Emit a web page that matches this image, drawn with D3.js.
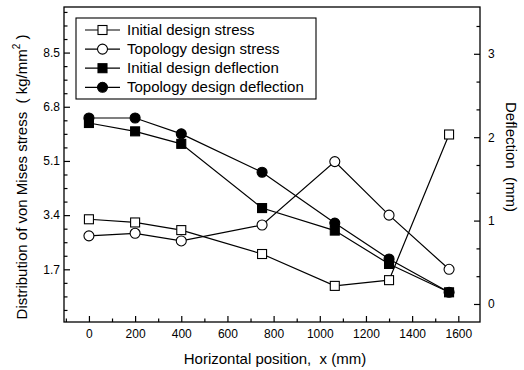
<!DOCTYPE html>
<html>
<head>
<meta charset="utf-8">
<script src="https://cdn.jsdelivr.net/npm/d3@7"></script>
<style>
  body { margin: 0; background: #fff; }
  text { font-family: "Liberation Sans", Arial, sans-serif; fill: #000; }
</style>
</head>
<body>
<div id="chart"></div>
<script>
// positions along the beam (mm)
const positions = [0, 200, 400, 750, 1065, 1300, 1560];
// von Mises stress (kg/mm^2), left axis
const initialStress = [3.27, 3.17, 2.93, 2.18, 1.18, 1.36, 5.93];
const topologyStress = [2.75, 2.83, 2.59, 3.09, 5.08, 3.40, 1.70];
// deflection (mm), right axis
const initialDeflection = [2.17, 2.07, 1.92, 1.15, 0.88, 0.48, 0.14];
const topologyDeflection = [2.23, 2.23, 2.04, 1.58, 0.97, 0.54, 0.14];

const xTicks = [0, 200, 400, 600, 800, 1000, 1200, 1400, 1600];
const stressTicks = [1.7, 3.4, 5.1, 6.8, 8.5];
const deflTicks = [0, 1, 2, 3];
const legendNames = ["Initial design stress", "Topology design stress",
  "Initial design deflection", "Topology design deflection"];

const width = 524, height = 370;
const plotLeft = 64, plotRight = 480, plotTop = 7, plotBottom = 322;

const svg = d3.select("#chart").append("svg")
  .attr("width", width)
  .attr("height", height);

const x = d3.scaleLinear().domain([-108, 1694]).range([plotLeft, plotRight]);
const yL = d3.scaleLinear().domain([0.047, 9.93]).range([plotBottom, plotTop]);
const yR = d3.scaleLinear().domain([-0.216, 3.561]).range([plotBottom, plotTop]);

// minor tick values
const xMinor = d3.range(-100, 1700, 200);
const yLMinor = d3.range(1, 24).map(i => i * 0.425).filter(v => Math.abs(v / 1.7 - Math.round(v / 1.7)) > 0.01);
const yRMinor = d3.range(1, 11).map(i => i / 3).filter(v => Math.abs(v - Math.round(v)) > 0.01);

function styleAxis(g) {
  g.select(".domain").remove();
  g.selectAll("line").attr("stroke", "#000").attr("stroke-width", 1.2);
  g.selectAll("text").attr("font-size", 12).attr("font-family", "Liberation Sans, Arial, sans-serif");
}

// bottom axis
svg.append("g").attr("transform", "translate(0," + plotBottom + ")")
  .call(d3.axisBottom(x).tickValues(xTicks).tickSize(-6).tickPadding(7).tickFormat(d3.format("d")))
  .call(styleAxis);
svg.append("g").attr("transform", "translate(0," + plotBottom + ")")
  .call(d3.axisBottom(x).tickValues(xMinor).tickSize(-3.5).tickFormat(""))
  .call(styleAxis);

// left axis
svg.append("g").attr("transform", "translate(" + plotLeft + ",0)")
  .call(d3.axisLeft(yL).tickValues(stressTicks).tickSize(-6).tickPadding(4).tickFormat(d3.format(".1f")))
  .call(styleAxis);
svg.append("g").attr("transform", "translate(" + plotLeft + ",0)")
  .call(d3.axisLeft(yL).tickValues(yLMinor).tickSize(-3.5).tickFormat(""))
  .call(styleAxis);

// right axis
svg.append("g").attr("transform", "translate(" + plotRight + ",0)")
  .call(d3.axisRight(yR).tickValues(deflTicks).tickSize(-6).tickPadding(8).tickFormat(d3.format("d")))
  .call(styleAxis);
svg.append("g").attr("transform", "translate(" + plotRight + ",0)")
  .call(d3.axisRight(yR).tickValues(yRMinor).tickSize(-3.5).tickFormat(""))
  .call(styleAxis);

// frame
svg.append("rect")
  .attr("x", plotLeft).attr("y", plotTop)
  .attr("width", plotRight - plotLeft).attr("height", plotBottom - plotTop)
  .attr("fill", "none").attr("stroke", "#000").attr("stroke-width", 1.3);

const series = [
  { values: initialStress, y: yL, shape: "square", filled: false },
  { values: topologyStress, y: yL, shape: "circle", filled: false },
  { values: initialDeflection, y: yR, shape: "square", filled: true },
  { values: topologyDeflection, y: yR, shape: "circle", filled: true }
];

function drawMarker(g, shape, filled, cx, cy) {
  if (shape === "square") {
    g.append("rect")
      .attr("x", cx - 4.5).attr("y", cy - 4.5)
      .attr("width", 9).attr("height", 9)
      .attr("fill", filled ? "#000" : "#fff")
      .attr("stroke", "#000").attr("stroke-width", 1.1);
  } else {
    g.append("circle")
      .attr("cx", cx).attr("cy", cy).attr("r", 5)
      .attr("fill", filled ? "#000" : "#fff")
      .attr("stroke", "#000").attr("stroke-width", 1.1);
  }
}

// lines first
series.forEach(s => {
  const line = d3.line()
    .x((d, i) => x(positions[i]))
    .y(d => s.y(d));
  svg.append("path")
    .datum(s.values)
    .attr("d", line)
    .attr("fill", "none")
    .attr("stroke", "#000")
    .attr("stroke-width", 1.2);
});

// then markers
series.forEach(s => {
  const g = svg.append("g");
  s.values.forEach((v, i) => drawMarker(g, s.shape, s.filled, x(positions[i]), s.y(v)));
});

// legend
const legend = svg.append("g");
legend.append("rect")
  .attr("x", 76).attr("y", 18).attr("width", 240).attr("height", 81)
  .attr("fill", "#fff").attr("stroke", "#000").attr("stroke-width", 1.1);
legendNames.forEach((name, i) => {
  const cy = 30 + i * 19.1;
  legend.append("line")
    .attr("x1", 85).attr("x2", 120).attr("y1", cy).attr("y2", cy)
    .attr("stroke", "#000").attr("stroke-width", 1.2);
  drawMarker(legend, series[i].shape, series[i].filled, 102.5, cy);
  legend.append("text")
    .attr("x", 127).attr("y", cy + 5)
    .attr("font-size", 15)
    .text(name);
});

// axis titles
svg.append("text")
  .attr("x", (plotLeft + plotRight) / 2 + 3).attr("y", 364)
  .attr("text-anchor", "middle")
  .attr("font-size", 15)
  .style("white-space", "pre")
  .text("Horizontal position,  x (mm)");

const yTitle = svg.append("text")
  .attr("transform", "translate(27,177) rotate(-90)")
  .attr("text-anchor", "middle")
  .attr("font-size", 15)
  .style("white-space", "pre");
yTitle.append("tspan").text("Distribution of von Mises stress  ( kg/mm");
yTitle.append("tspan").attr("font-size", 10).attr("dy", -7).text("2");
yTitle.append("tspan").attr("dy", 7).text(" )");

svg.append("text")
  .attr("transform", "translate(506,157) rotate(90)")
  .attr("text-anchor", "middle")
  .attr("font-size", 15)
  .style("white-space", "pre")
  .text("Deflection  (mm)");
</script>
</body>
</html>
